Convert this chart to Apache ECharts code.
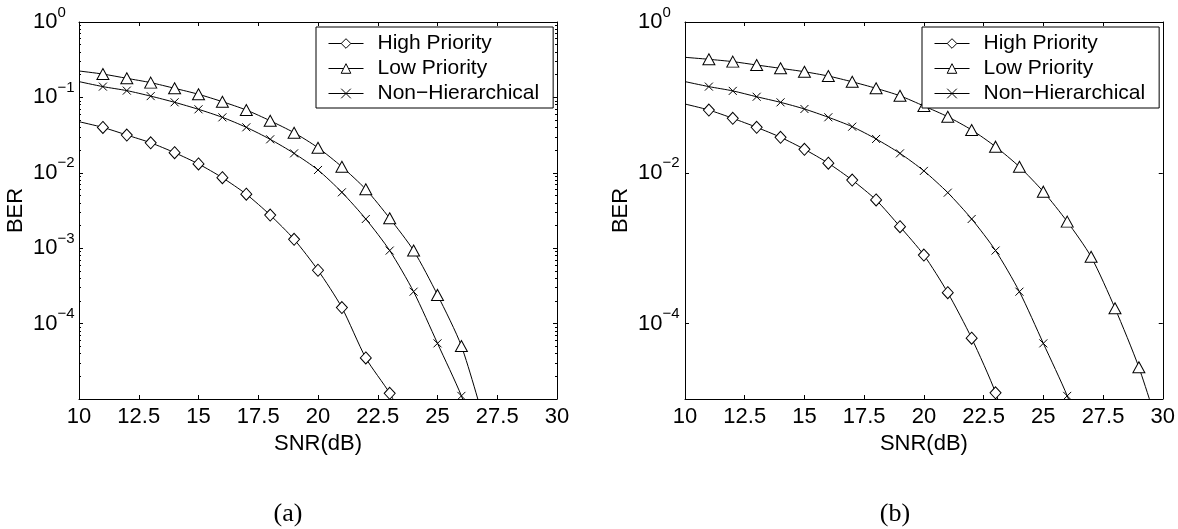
<!DOCTYPE html>
<html lang="en">
<head>
	<meta charset="UTF-8">
	<title>BER vs SNR</title>
	<script src="https://cdn.jsdelivr.net/npm/echarts@6/dist/echarts.min.js"></script>
</head>
<style>
	html, body { margin: 0; padding: 0; background: #fff; }
	#main{
		width: 1178px;
		height: 529px;
	}
</style>
<body>
	<div id="main"></div>
	<script>
		// SNR points (dB); the first point and the ones past the last marker carry no marker
		var snrHighA = [10, 11, 12, 13, 14, 15, 16, 17, 18, 19, 20, 21, 22, 23, 24];
		var berHighA = [0.0476, 0.040, 0.0317, 0.025, 0.0185, 0.0131, 0.0086, 0.0052, 0.00275, 0.00131, 5.1e-4, 1.63e-4, 3.5e-5, 1.19e-5, 3e-6];
		var snrLowA = [10, 11, 12, 13, 14, 15, 16, 17, 18, 19, 20, 21, 22, 23, 24, 25, 26, 27];
		var berLowA = [0.224, 0.204, 0.179, 0.157, 0.132, 0.110, 0.0877, 0.068, 0.049, 0.034, 0.0215, 0.012, 0.00604, 0.00249, 9.3e-4, 2.4e-4, 5.05e-5, 4.5e-6];
		var snrNonA = [10, 11, 12, 13, 14, 15, 16, 17, 18, 19, 20, 21, 22, 23, 24, 25, 26, 27];
		var berNonA = [0.162, 0.139, 0.123, 0.104, 0.0861, 0.0695, 0.0544, 0.0401, 0.0278, 0.0181, 0.0109, 0.00551, 0.00244, 9.3e-4, 2.65e-4, 5.47e-5, 1.1e-5, 1.5e-6];

		var snrHighB = [10, 11, 12, 13, 14, 15, 16, 17, 18, 19, 20, 21, 22, 23, 24];
		var berHighB = [0.0817, 0.068, 0.0528, 0.0401, 0.0296, 0.0205, 0.0134, 0.0080, 0.00436, 0.00193, 8.1e-4, 2.57e-4, 6.4e-5, 1.21e-5, 1.2e-6];
		var snrLowB = [10, 11, 12, 13, 14, 15, 16, 17, 18, 19, 20, 21, 22, 23, 24, 25, 26, 27, 28, 29, 30];
		var berLowB = [0.340, 0.320, 0.298, 0.269, 0.243, 0.219, 0.192, 0.161, 0.132, 0.105, 0.0769, 0.0554, 0.0370, 0.0222, 0.0120, 0.00562, 0.00225, 7.7e-4, 1.6e-4, 2.63e-5, 2.75e-6];
		var snrNonB = [10, 11, 12, 13, 14, 15, 16, 17, 18, 19, 20, 21, 22, 23, 24, 25, 26, 27];
		var berNonB = [0.162, 0.139, 0.122, 0.102, 0.086, 0.0702, 0.0545, 0.0409, 0.0281, 0.0181, 0.0106, 0.00545, 0.00244, 9.3e-4, 2.65e-4, 5.47e-5, 1.1e-5, 1.5e-6];

		// last SNR that gets a marker in each series
		var lastMarkHighA = 23, lastMarkLowA = 26, lastMarkNonA = 26;
		var lastMarkHighB = 23, lastMarkLowB = 29, lastMarkNonB = 26;

		var seriesNames = ['High Priority', 'Low Priority', 'Non\u2212Hierarchical'];
		var xTicks = [10, 12.5, 15, 17.5, 20, 22.5, 25, 27.5, 30];
		var yTicksA = [1e-4, 1e-3, 1e-2, 1e-1, 1];
		var yTicksB = [1e-4, 1e-2, 1];

		var FONT = 'Liberation Sans, Arial, Helvetica, sans-serif';

		// minor log ticks 2..9 per decade
		var minorTicks = [];
		for (var d = -5; d < 0; d++) {
			for (var m = 2; m <= 9; m++) {
				minorTicks.push(m * Math.pow(10, d));
			}
		}

		var xSymbol = 'path://M0,0L10,10M0,10L10,0';

		var makeData = function (xs, ys, lastMark) {
			var out = [];
			for (var i = 0; i < xs.length; i++) {
				var item = { value: [xs[i], ys[i]] };
				if (xs[i] === 10 || xs[i] > lastMark) {
					item.symbol = 'none';
				}
				out.push(item);
			}
			return out;
		};

		var expLabel = function (v) {
			var e = Math.round(Math.log10(v));
			var s = e < 0 ? '\u2212' + (-e) : '' + e;
			return '{b|10}{s|' + s + '}';
		};

		var expRich = {
			b: { fontSize: 22, lineHeight: 22, fontFamily: FONT, color: '#000' },
			s: { fontSize: 15, lineHeight: 15, fontFamily: FONT, color: '#000', padding: [0, 0, 19, 0] }
		};

		var xBottom = function (gridIndex) {
			return {
				type: 'value', gridIndex: gridIndex, position: 'bottom',
				min: 10, max: 30, interval: 2.5,
				name: 'SNR(dB)', nameLocation: 'middle', nameGap: 30,
				nameTextStyle: { fontSize: 22, fontFamily: FONT, color: '#000' },
				axisLine: { show: true, onZero: false, lineStyle: { color: '#000', width: 1 } },
				axisTick: { show: true, inside: true, length: 4, lineStyle: { color: '#000' } },
				axisLabel: { fontSize: 22, fontFamily: FONT, color: '#000', margin: 7 },
				splitLine: { show: false }
			};
		};
		var xTop = function (gridIndex) {
			return {
				type: 'value', gridIndex: gridIndex, position: 'top',
				min: 10, max: 30, interval: 2.5,
				axisLine: { show: true, onZero: false, lineStyle: { color: '#000', width: 1 } },
				axisTick: { show: true, inside: true, length: 4, lineStyle: { color: '#000' } },
				axisLabel: { show: false },
				splitLine: { show: false }
			};
		};
		var yMajor = function (gridIndex, position, ticks, withLabel, margin) {
			return {
				type: 'log', logBase: 10, gridIndex: gridIndex, position: position,
				min: 1e-5, max: 1,
				name: withLabel ? 'BER' : '', nameLocation: 'middle', nameGap: margin + 6,
				nameTextStyle: { fontSize: 22, fontFamily: FONT, color: '#000' },
				axisLine: { show: true, lineStyle: { color: '#000', width: 1 } },
				axisTick: { show: true, inside: true, length: 4, customValues: ticks, lineStyle: { color: '#000' } },
				axisLabel: {
					show: withLabel, customValues: ticks, align: 'left', margin: margin,
					formatter: expLabel, rich: expRich
				},
				splitLine: { show: false },
				minorTick: { show: false }
			};
		};
		var yMinor = function (gridIndex, position) {
			return {
				type: 'log', logBase: 10, gridIndex: gridIndex, position: position,
				min: 1e-5, max: 1,
				axisLine: { show: false },
				axisTick: { show: true, inside: true, length: 2, customValues: minorTicks, lineStyle: { color: '#000' } },
				axisLabel: { show: false },
				splitLine: { show: false }
			};
		};

		// hollow markers: white fill, thin black outline
		var lineSeries = function (name, xIdx, yIdx, data, symbol, size) {
			return {
				name: name, type: 'line', xAxisIndex: xIdx, yAxisIndex: yIdx,
				data: data, symbol: symbol, symbolSize: size, showSymbol: true,
				smooth: 0.25, clip: true, animation: false,
				lineStyle: { color: '#000', width: 1 },
				itemStyle: { color: '#fff', borderColor: '#000', borderWidth: 1 },
				z: 3
			};
		};

		var legendBox = function (left) {
			return {
				data: seriesNames, orient: 'vertical', left: left, top: 27,
				itemWidth: 35, itemHeight: 12, itemGap: 4,
				padding: [6, 14, 4, 12],
				borderColor: '#000', borderWidth: 1, backgroundColor: '#fff',
				lineStyle: { color: '#000', width: 1 },
				itemStyle: { color: '#fff', borderColor: '#000', borderWidth: 1 },
				textStyle: { fontSize: 21, fontFamily: FONT, color: '#000', padding: [0, 0, 0, 9] },
				selectedMode: false, z: 10
			};
		};

		var myChart = echarts.init(document.getElementById('main'), null, { renderer: 'canvas' });
		var option = {
			backgroundColor: '#fff',
			animation: false,
			title: [
				{ text: '(a)', left: 288, top: 501, textAlign: 'center', padding: 0,
				  textStyle: { fontFamily: 'Liberation Serif, Times New Roman, serif', fontSize: 26, fontWeight: 'normal', color: '#000' } },
				{ text: '(b)', left: 895, top: 501, textAlign: 'center', padding: 0,
				  textStyle: { fontFamily: 'Liberation Serif, Times New Roman, serif', fontSize: 26, fontWeight: 'normal', color: '#000' } }
			],
			grid: [
				{ left: 79, top: 22, width: 478, height: 377 },
				{ left: 685, top: 22, width: 478, height: 377 }
			],
			legend: [legendBox(316), legendBox(922)],
			xAxis: [xBottom(0), xTop(0), xBottom(1), xTop(1)],
			yAxis: [
				yMajor(0, 'left', yTicksA, true, 46),
				yMinor(0, 'left'),
				yMajor(0, 'right', yTicksA, false, 8),
				yMinor(0, 'right'),
				yMajor(1, 'left', yTicksB, true, 47),
				yMajor(1, 'right', yTicksB, false, 8)
			],
			series: [
				lineSeries(seriesNames[0], 0, 0, makeData(snrHighA, berHighA, lastMarkHighA), 'diamond', [11, 12]),
				lineSeries(seriesNames[1], 0, 0, makeData(snrLowA, berLowA, lastMarkLowA), 'triangle', [12, 11]),
				lineSeries(seriesNames[2], 0, 0, makeData(snrNonA, berNonA, lastMarkNonA), xSymbol, 8),
				lineSeries(seriesNames[0], 2, 4, makeData(snrHighB, berHighB, lastMarkHighB), 'diamond', [11, 12]),
				lineSeries(seriesNames[1], 2, 4, makeData(snrLowB, berLowB, lastMarkLowB), 'triangle', [12, 11]),
				lineSeries(seriesNames[2], 2, 4, makeData(snrNonB, berNonB, lastMarkNonB), xSymbol, 8)
			]
		};
		myChart.setOption(option);
	</script>
</body>
</html>
